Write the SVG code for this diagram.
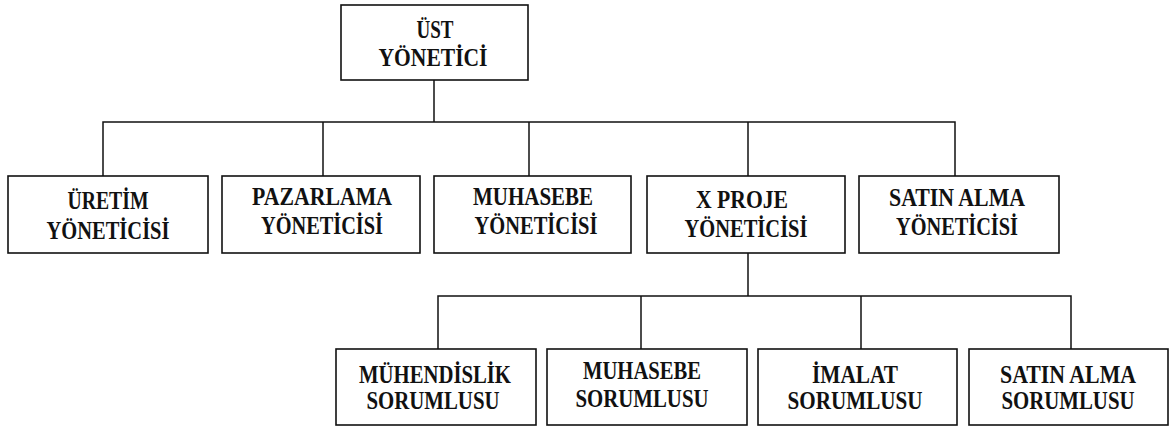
<svg xmlns="http://www.w3.org/2000/svg" width="1176" height="428" viewBox="0 0 1176 428">
  <style>
    .box { fill: #ffffff; stroke: #111111; stroke-width: 1.6; }
    .lbl { font-family: "Liberation Serif", "DejaVu Serif", "Times New Roman", serif; font-weight: bold; font-size: 25px; fill: #111111; text-anchor: middle; }
    .wire { fill: none; stroke: #111111; stroke-width: 1.5; }
  </style>
  <rect width="1176" height="428" fill="#ffffff"/>

  <!-- connectors -->
  <g id="connectors">
    <path class="wire" d="M434 80 V122"/>
    <path class="wire" d="M103 176 V122 H955 V176"/>
    <path class="wire" d="M323 122 V176"/>
    <path class="wire" d="M529 122 V176"/>
    <path class="wire" d="M748 122 V176"/>
    <path class="wire" d="M748 253 V296"/>
    <path class="wire" d="M438 349 V296 H1071 V349"/>
    <path class="wire" d="M641 296 V349"/>
    <path class="wire" d="M861 296 V349"/>
  </g>

  <!-- top level -->
  <g id="ust-yonetici">
    <rect class="box" x="341" y="5" width="187" height="75"/>
    <text class="lbl" x="435" y="38" textLength="37" lengthAdjust="spacingAndGlyphs">ÜST</text>
    <text class="lbl" x="433" y="66" textLength="109" lengthAdjust="spacingAndGlyphs">YÖNETİCİ</text>
  </g>

  <!-- second level -->
  <g id="uretim-yoneticisi">
    <rect class="box" x="8" y="176" width="200" height="77"/>
    <text class="lbl" x="108" y="209" textLength="81" lengthAdjust="spacingAndGlyphs">ÜRETİM</text>
    <text class="lbl" x="108" y="239" textLength="123" lengthAdjust="spacingAndGlyphs">YÖNETİCİSİ</text>
  </g>
  <g id="pazarlama-yoneticisi">
    <rect class="box" x="222" y="176" width="198" height="77"/>
    <text class="lbl" x="322" y="205" textLength="140" lengthAdjust="spacingAndGlyphs">PAZARLAMA</text>
    <text class="lbl" x="322" y="234" textLength="122" lengthAdjust="spacingAndGlyphs">YÖNETİCİSİ</text>
  </g>
  <g id="muhasebe-yoneticisi">
    <rect class="box" x="434" y="176" width="197" height="77"/>
    <text class="lbl" x="533" y="205" textLength="120" lengthAdjust="spacingAndGlyphs">MUHASEBE</text>
    <text class="lbl" x="536" y="234" textLength="123" lengthAdjust="spacingAndGlyphs">YÖNETİCİSİ</text>
  </g>
  <g id="x-proje-yoneticisi">
    <rect class="box" x="647" y="176" width="198" height="77"/>
    <text class="lbl" x="742" y="208" textLength="92" lengthAdjust="spacingAndGlyphs">X PROJE</text>
    <text class="lbl" x="746" y="237" textLength="123" lengthAdjust="spacingAndGlyphs">YÖNETİCİSİ</text>
  </g>
  <g id="satin-alma-yoneticisi">
    <rect class="box" x="859" y="176" width="200" height="77"/>
    <text class="lbl" x="957" y="206" textLength="136" lengthAdjust="spacingAndGlyphs">SATIN ALMA</text>
    <text class="lbl" x="957" y="235" textLength="122" lengthAdjust="spacingAndGlyphs">YÖNETİCİSİ</text>
  </g>

  <!-- third level -->
  <g id="muhendislik-sorumlusu">
    <rect class="box" x="336" y="349" width="200" height="76"/>
    <text class="lbl" x="435" y="383" textLength="152" lengthAdjust="spacingAndGlyphs">MÜHENDİSLİK</text>
    <text class="lbl" x="433" y="409" textLength="133" lengthAdjust="spacingAndGlyphs">SORUMLUSU</text>
  </g>
  <g id="muhasebe-sorumlusu">
    <rect class="box" x="547" y="349" width="200" height="76"/>
    <text class="lbl" x="642" y="379" textLength="118" lengthAdjust="spacingAndGlyphs">MUHASEBE</text>
    <text class="lbl" x="642" y="407" textLength="133" lengthAdjust="spacingAndGlyphs">SORUMLUSU</text>
  </g>
  <g id="imalat-sorumlusu">
    <rect class="box" x="758" y="349" width="199" height="76"/>
    <text class="lbl" x="855" y="383" textLength="86" lengthAdjust="spacingAndGlyphs">İMALAT</text>
    <text class="lbl" x="855" y="409" textLength="135" lengthAdjust="spacingAndGlyphs">SORUMLUSU</text>
  </g>
  <g id="satin-alma-sorumlusu">
    <rect class="box" x="969" y="349" width="199" height="76"/>
    <text class="lbl" x="1068" y="383" textLength="136" lengthAdjust="spacingAndGlyphs">SATIN ALMA</text>
    <text class="lbl" x="1068" y="409" textLength="133" lengthAdjust="spacingAndGlyphs">SORUMLUSU</text>
  </g>
</svg>
